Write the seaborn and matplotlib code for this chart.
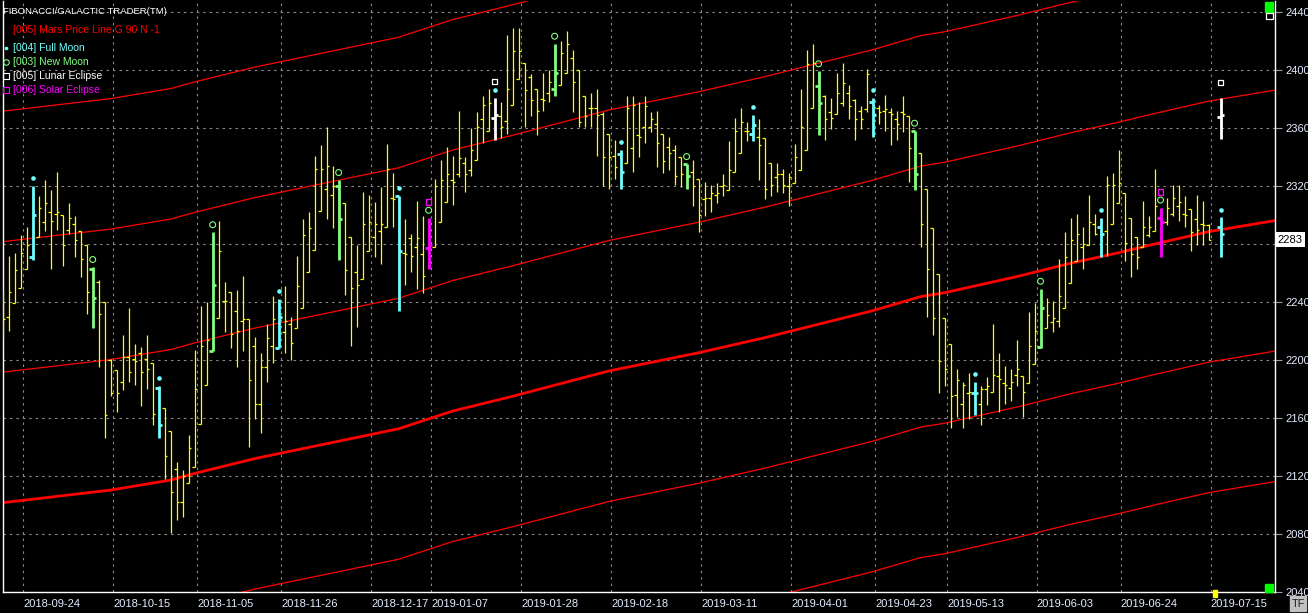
import numpy as np
import pandas as pd
import seaborn as sns
import matplotlib.pyplot as plt
from matplotlib.transforms import blended_transform_factory
from matplotlib.patches import Rectangle

# daily bars (index 0 = first bar on the left)
opens = [2230, 2230, 2239, 2250, 2263, 2271, 2285, 2295, 2302, 2301,
         2300, 2290, 2294, 2289, 2279, 2263, 2254, 2240, 2200, 2193,
         2185, 2202, 2201, 2205, 2201, 2198, 2181, 2167, 2151, 2125,
         2102, 2115, 2126, 2156, 2183, 2206, 2229, 2241, 2247, 2234,
         2227, 2228, 2210, 2170, 2195, 2210, 2208, 2219, 2225, 2222,
         2236, 2261, 2276, 2303, 2318, 2314, 2320, 2308, 2285, 2261,
         2256, 2275, 2285, 2289, 2292, 2312, 2313, 2274, 2284, 2278,
         2273, 2277, 2278, 2295, 2309, 2324, 2328, 2336, 2331, 2338,
         2366, 2358, 2367, 2368, 2365, 2376, 2394, 2405, 2395, 2387,
         2380, 2384, 2387, 2390, 2398, 2408, 2400, 2382, 2374, 2374,
         2370, 2356, 2341, 2342, 2336, 2346, 2355, 2361, 2361, 2363,
         2356, 2347, 2345, 2340, 2335, 2330, 2325, 2311, 2312, 2314,
         2320, 2317, 2330, 2343, 2358, 2356, 2354, 2353, 2336, 2326,
         2328, 2320, 2322, 2331, 2345, 2374, 2389, 2382, 2371, 2370,
         2377, 2384, 2379, 2372, 2373, 2378, 2374, 2372, 2371, 2366,
         2371, 2368, 2358, 2343, 2318, 2291, 2259, 2229, 2211, 2176,
         2170, 2177, 2177, 2170, 2180, 2178, 2189, 2184, 2181, 2190,
         2189, 2184, 2197, 2209, 2222, 2226, 2227, 2236, 2253, 2268,
         2278, 2279, 2294, 2292, 2289, 2294, 2308, 2315, 2298, 2285,
         2278, 2286, 2289, 2298, 2295, 2301, 2306, 2301, 2304, 2297,
         2294, 2293]
highs = [2248, 2272, 2274, 2286, 2292, 2320, 2313, 2324, 2317, 2330,
         2300, 2308, 2299, 2289, 2279, 2264, 2255, 2240, 2201, 2193,
         2217, 2236, 2211, 2209, 2217, 2198, 2182, 2167, 2151, 2130,
         2124, 2148, 2207, 2237, 2240, 2288, 2296, 2254, 2247, 2248,
         2258, 2228, 2216, 2205, 2225, 2244, 2242, 2251, 2230, 2272,
         2297, 2302, 2341, 2348, 2361, 2334, 2324, 2308, 2285, 2279,
         2316, 2314, 2309, 2319, 2349, 2329, 2313, 2297, 2287, 2310,
         2299, 2298, 2325, 2338, 2347, 2341, 2372, 2340, 2360, 2371,
         2382, 2387, 2381, 2378, 2424, 2429, 2429, 2405, 2397, 2387,
         2398, 2400, 2418, 2420, 2427, 2414, 2400, 2382, 2384, 2387,
         2371, 2356, 2352, 2345, 2382, 2382, 2378, 2382, 2371, 2372,
         2356, 2354, 2348, 2340, 2335, 2338, 2325, 2323, 2321, 2322,
         2328, 2351, 2367, 2374, 2364, 2369, 2366, 2353, 2336, 2336,
         2332, 2329, 2349, 2387, 2414, 2418, 2399, 2383, 2381, 2398,
         2405, 2390, 2380, 2375, 2401, 2381, 2376, 2383, 2374, 2372,
         2382, 2368, 2358, 2343, 2318, 2291, 2259, 2229, 2211, 2194,
         2185, 2191, 2185, 2182, 2188, 2225, 2205, 2196, 2194, 2214,
         2189, 2233, 2239, 2249, 2243, 2241, 2270, 2288, 2298, 2301,
         2292, 2314, 2301, 2298, 2327, 2329, 2345, 2315, 2298, 2285,
         2310, 2299, 2332, 2305, 2312, 2321, 2321, 2313, 2304, 2314,
         2310, 2294]
lows = [2216, 2220, 2239, 2250, 2263, 2269, 2285, 2289, 2263, 2290,
        2265, 2287, 2271, 2257, 2232, 2222, 2195, 2146, 2175, 2164,
        2179, 2185, 2183, 2168, 2180, 2155, 2146, 2118, 2081, 2090,
        2092, 2115, 2126, 2156, 2183, 2206, 2229, 2219, 2208, 2195,
        2206, 2140, 2159, 2150, 2185, 2198, 2208, 2205, 2200, 2222,
        2236, 2261, 2276, 2303, 2297, 2291, 2269, 2245, 2210, 2223,
        2256, 2275, 2271, 2266, 2292, 2292, 2234, 2252, 2261, 2249,
        2246, 2263, 2278, 2295, 2309, 2307, 2326, 2316, 2327, 2338,
        2350, 2358, 2352, 2353, 2356, 2376, 2394, 2361, 2368, 2355,
        2372, 2378, 2382, 2390, 2398, 2371, 2361, 2361, 2361, 2341,
        2320, 2318, 2325, 2318, 2336, 2330, 2340, 2350, 2357, 2333,
        2329, 2331, 2321, 2319, 2318, 2306, 2288, 2299, 2302, 2308,
        2313, 2317, 2330, 2343, 2351, 2351, 2324, 2311, 2313, 2316,
        2315, 2306, 2322, 2331, 2345, 2374, 2355, 2352, 2359, 2370,
        2375, 2366, 2352, 2359, 2371, 2354, 2363, 2358, 2348, 2352,
        2357, 2323, 2317, 2278, 2230, 2217, 2177, 2182, 2153, 2161,
        2153, 2159, 2162, 2155, 2169, 2178, 2164, 2170, 2172, 2182,
        2161, 2184, 2197, 2208, 2222, 2219, 2223, 2236, 2253, 2268,
        2263, 2279, 2286, 2271, 2272, 2294, 2308, 2268, 2257, 2263,
        2278, 2285, 2289, 2271, 2293, 2299, 2296, 2292, 2275, 2279,
        2279, 2283]
closes = [2228, 2247, 2262, 2274, 2279, 2300, 2305, 2308, 2296, 2302,
          2279, 2298, 2283, 2270, 2247, 2243, 2232, 2162, 2177, 2177,
          2202, 2192, 2199, 2192, 2194, 2163, 2155, 2134, 2109, 2102,
          2120, 2139, 2180, 2210, 2214, 2252, 2275, 2241, 2218, 2220,
          2228, 2186, 2170, 2195, 2215, 2228, 2230, 2227, 2212, 2251,
          2286, 2291, 2332, 2332, 2334, 2320, 2297, 2262, 2250, 2252,
          2294, 2295, 2294, 2294, 2332, 2311, 2275, 2273, 2272, 2284,
          2258, 2279, 2320, 2324, 2328, 2323, 2339, 2328, 2345, 2361,
          2376, 2377, 2369, 2361, 2387, 2413, 2413, 2386, 2379, 2372,
          2379, 2392, 2398, 2412, 2418, 2392, 2364, 2368, 2374, 2369,
          2340, 2340, 2333, 2330, 2374, 2376, 2354, 2375, 2366, 2350,
          2337, 2343, 2327, 2328, 2327, 2320, 2300, 2312, 2315, 2315,
          2321, 2331, 2358, 2364, 2358, 2362, 2348, 2318, 2321, 2328,
          2321, 2326, 2340, 2361, 2404, 2405, 2377, 2366, 2367, 2384,
          2391, 2375, 2366, 2366, 2397, 2369, 2371, 2373, 2370, 2363,
          2370, 2346, 2328, 2294, 2263, 2229, 2199, 2194, 2175, 2186,
          2183, 2178, 2177, 2180, 2182, 2190, 2187, 2183, 2185, 2194,
          2178, 2210, 2220, 2236, 2231, 2229, 2244, 2271, 2283, 2287,
          2280, 2295, 2287, 2287, 2321, 2321, 2322, 2281, 2273, 2271,
          2292, 2292, 2306, 2295, 2305, 2312, 2309, 2300, 2288, 2290,
          2293, 2283]

# bars that carry an astro event
full_moon = [5, 26, 46, 66, 82, 103, 125, 145, 162, 183]
new_moon = [15, 35, 56, 71, 92, 114, 136, 152, 173, 193]
lunar_eclipse = [82]
solar_eclipse = [71, 193]

# projected event bars past the last trading bar (open, high, low, close)
proj_bar = 203
proj_full_moon = [2291.5, 2298.4, 2271.3, 2286.9]
proj_lunar = [2367.8, 2380.5, 2352.2, 2369.0]

# Mars price line (G 90), read at a few bars, plus its 90-point harmonics
mars_bar = [0, 18, 28, 32, 42, 66, 75, 85, 101, 116, 127, 145, 153, 157,
            169, 178, 186, 192, 201, 212]
mars_price = [2101.6, 2110.3, 2117.2, 2121.8, 2132.0, 2152.6, 2164.8, 2175.0,
              2192.4, 2205.0, 2215.4, 2234.0, 2243.7, 2246.4, 2257.5, 2266.7,
              2274.0, 2280.0, 2288.5, 2296.1]
mars_offsets = [-180, -90, 90, 180, 270]

date_bars = [3, 18, 32, 46, 61, 71, 86, 101, 116, 131, 145, 157, 172, 186, 201]
date_labels = ['2018-09-24', '2018-10-15', '2018-11-05', '2018-11-26', '2018-12-17',
               '2019-01-07', '2019-01-28', '2019-02-18', '2019-03-11', '2019-04-01',
               '2019-04-23', '2019-05-13', '2019-06-03', '2019-06-24', '2019-07-15']
price_ticks = [2040, 2080, 2120, 2160, 2200, 2240, 2280, 2320, 2360, 2400, 2440]

YELLOW = '#FFFF00'
CYAN = '#70FFFF'
GREEN = '#80FF80'
MAGENTA = '#FF00FF'
WHITE = '#FFFFFF'
LABEL = '#E4ECFF'

sns.set_theme(style='dark')
plt.rcParams['font.family'] = ['Liberation Sans', 'DejaVu Sans']

W, H = 1308, 613
fig = plt.figure(figsize=(W / 100, H / 100), dpi=100, facecolor='black')
ax = fig.add_axes([3.3 / W, 21 / H, 1271.2 / W, 591 / H])
ax.set_facecolor('black')

ohlc = pd.DataFrame({'open': opens, 'high': highs, 'low': lows, 'close': closes})
ohlc['bar'] = np.arange(len(ohlc))

# colour of each bar: eclipses win over moon phases
ohlc['color'] = YELLOW
ohlc.loc[ohlc['bar'].isin(full_moon), 'color'] = CYAN
ohlc.loc[ohlc['bar'].isin(new_moon), 'color'] = GREEN
ohlc.loc[ohlc['bar'].isin(lunar_eclipse), 'color'] = WHITE
ohlc.loc[ohlc['bar'].isin(solar_eclipse), 'color'] = MAGENTA

extra = pd.DataFrame([proj_full_moon, proj_lunar], columns=['open', 'high', 'low', 'close'])
extra['bar'] = proj_bar
extra['color'] = [CYAN, WHITE]
bars = pd.concat([ohlc, extra], ignore_index=True)

# mars lines
mars = pd.DataFrame({'bar': mars_bar, 'price': mars_price})
harm = pd.concat([mars.assign(price=mars['price'] + k, k=k) for k in mars_offsets],
                 ignore_index=True)
sns.lineplot(data=harm, x='bar', y='price', units='k', estimator=None,
             color='#FF0000', linewidth=0.9, ax=ax, zorder=2)
sns.lineplot(data=mars, x='bar', y='price', color='#FF0000', linewidth=2.0,
             ax=ax, zorder=2)

# OHLC bars
plain = bars[bars['color'] == YELLOW]
event = bars[bars['color'] != YELLOW]
kw = dict(color=YELLOW, lw=0.9, zorder=3)
ax.vlines(plain['bar'], plain['low'], plain['high'], **kw)
ax.hlines(plain['open'], plain['bar'] - 0.42, plain['bar'], **kw)
ax.hlines(plain['close'], plain['bar'], plain['bar'] + 0.42, **kw)
ekw = dict(color=event['color'], lw=2.0, zorder=4)
ax.vlines(event['bar'], event['low'], event['high'], **ekw)
ax.hlines(event['open'], event['bar'] - 0.6, event['bar'], **ekw)
ax.hlines(event['close'], event['bar'], event['bar'] + 0.6, **ekw)

# event markers above the highs
fm = pd.DataFrame({'bar': full_moon + [proj_bar]})
fm['y'] = [ohlc['high'][b] for b in full_moon] + [proj_full_moon[1]]
fm['y'] += 5.3
nm = pd.DataFrame({'bar': new_moon, 'y': [ohlc['high'][b] + 5.3 for b in new_moon]})
le = pd.DataFrame({'bar': lunar_eclipse + [proj_bar],
                   'y': [ohlc['high'][b] + 11 for b in lunar_eclipse] + [proj_lunar[1] + 11]})
se = pd.DataFrame({'bar': solar_eclipse, 'y': [ohlc['high'][b] + 11 for b in solar_eclipse]})

sns.scatterplot(data=fm, x='bar', y='y', color=CYAN, marker='o', s=11,
                linewidth=0, ax=ax, zorder=5)
sns.scatterplot(data=nm, x='bar', y='y', marker='o', s=18, facecolor='none',
                edgecolor=GREEN, linewidth=0.8, ax=ax, zorder=5)
sns.scatterplot(data=le, x='bar', y='y', marker='s', s=16, facecolor='none',
                edgecolor=WHITE, linewidth=0.9, ax=ax, zorder=5)
sns.scatterplot(data=se, x='bar', y='y', marker='s', s=16, facecolor='none',
                edgecolor=MAGENTA, linewidth=0.9, ax=ax, zorder=5)

# axes, grid and ticks
last = closes[-1]
ax.set_xlim(0.1, 212)
ax.set_ylim(2040, 2447.6)
ax.set_xticks([b + 0.4 for b in date_bars])
ax.set_xticklabels(date_labels, ha='left')
ax.set_yticks(price_ticks)
# the label under the last-price tag is hidden, as on the terminal
ax.set_yticklabels(['' if abs(p - last) < 15 else str(p) for p in price_ticks])
ax.grid(True, color='#8a8a8a', linestyle=(0, (2.2, 3.6)), linewidth=0.8)
ax.set_axisbelow(True)
ax.tick_params(axis='x', length=0, pad=5, labelsize=8, labelcolor=LABEL)
ax.tick_params(axis='y', left=False, right=True, labelleft=False, labelright=True,
               length=5, width=0.8, color='#a0a0a0', pad=3, labelsize=8, labelcolor=LABEL)
ax.set_xlabel('')
ax.set_ylabel('')
for side in ['left', 'bottom', 'right']:
    ax.spines[side].set_color('white')
    ax.spines[side].set_linewidth(1.0)
    ax.spines[side].set_visible(True)
ax.spines['top'].set_visible(False)

# last price tag
tr = blended_transform_factory(ax.transAxes, ax.transData)
ax.text(1.0025, last, f'{last:.0f}', transform=tr, ha='left', va='center',
        fontsize=8, color='black', zorder=10,
        bbox=dict(facecolor='white', edgecolor='none', pad=2.0), clip_on=False)

# current bar marker on the time axis
ax.add_patch(Rectangle((len(ohlc) - 0.3, 2036.5), 0.7, 5, color=YELLOW,
                       clip_on=False, zorder=6))

# corner widgets
def px_rect(x0, y0, x1, y1, **kw):
    fig.patches.append(Rectangle((x0 / W, 1 - y1 / H), (x1 - x0) / W, (y1 - y0) / H,
                                 transform=fig.transFigure, **kw))

px_rect(1265, 2, 1273, 12, color='#00FF00', zorder=8)
px_rect(1265, 584, 1273, 592, color='#00FF00', zorder=8)
px_rect(1265.5, 12.5, 1272.5, 18.5, facecolor='black', edgecolor='white', lw=0.9, zorder=8)
px_rect(1290, 596, 1306, 611, color='#C0C0C0', zorder=8)
fig.text(1298 / W, 1 - 604 / H, 'TF', ha='center', va='center', fontsize=8,
         color='#202020', zorder=9)

# legend block, top left
def px_text(x, y, s, color, size=7.5):
    fig.text(x / W, 1 - y / H, s, ha='left', va='center', fontsize=size, color=color)

px_text(3, 11, 'FIBONACCI/GALACTIC TRADER(TM)', WHITE, 6.8)
px_text(13, 30, '[005] Mars Price Line G 90 N -1', '#FF0000')
px_text(13, 48, '[004] Full Moon', CYAN)
px_text(13, 62, '[003] New Moon', GREEN)
px_text(13, 76, '[005] Lunar Eclipse', WHITE)
px_text(13, 90, '[006] Solar Eclipse', MAGENTA)
fig.lines.append(plt.Line2D([6 / W], [1 - 48 / H], marker='o', ms=2.6, color=CYAN,
                            mew=0, transform=fig.transFigure))
fig.lines.append(plt.Line2D([6 / W], [1 - 62 / H], marker='o', ms=4, mfc='none',
                            mec=GREEN, mew=0.8, transform=fig.transFigure))
fig.lines.append(plt.Line2D([6 / W], [1 - 76 / H], marker='s', ms=4, mfc='none',
                            mec=WHITE, mew=0.8, transform=fig.transFigure))
fig.lines.append(plt.Line2D([6 / W], [1 - 90 / H], marker='s', ms=4, mfc='none',
                            mec=MAGENTA, mew=0.8, transform=fig.transFigure))

fig.savefig('out.png', dpi=100, facecolor='black')
